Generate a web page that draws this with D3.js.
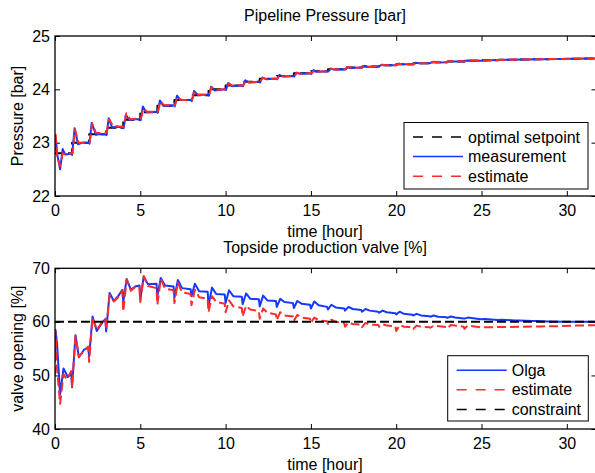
<!DOCTYPE html>
<html>
<head>
<meta charset="utf-8">
<script src="https://cdn.jsdelivr.net/npm/d3@7"></script>
<style>
  body { margin: 0; background: #fff; }
  text { font-family: "Liberation Sans", Arial, Helvetica, sans-serif; fill: #000; }
</style>
</head>
<body>
<svg id="chart" width="595" height="473"></svg>
<script>
// ---- data ----
const xTicks = [0, 5, 10, 15, 20, 25, 30]
const pressureTicks = [22, 23, 24, 25]
const valveTicks = [40, 50, 60, 70]

// optimal setpoint, one value per hour (step after)
const setpointHour = [0, 1, 2, 3, 4, 5, 6, 7, 8, 9, 10, 11, 12, 13, 14, 15, 16, 17, 18, 19, 20, 21, 22, 23, 24, 25, 26, 27, 28, 29, 30, 31, 32]
const setpointBar = [22.8, 23.0, 23.16, 23.28, 23.43, 23.57, 23.69, 23.8, 23.89, 24.0, 24.07, 24.14, 24.2, 24.25, 24.3, 24.34, 24.375, 24.41, 24.43, 24.45, 24.47, 24.49, 24.51, 24.52, 24.535, 24.545, 24.555, 24.56, 24.565, 24.57, 24.575, 24.578, 24.58]

const pressureMeas = [
  [0, 22.85], [0.05, 23.1], [0.12, 22.8], [0.3, 22.5], [0.45, 22.88], [0.6, 22.78], [0.95, 22.79],
  [1.0, 22.77], [1.15, 23.27], [1.35, 22.97], [1.6, 23.0], [1.97, 23.0],
  [2.02, 22.98], [2.15, 23.37], [2.4, 23.15], [2.6, 23.16], [2.97, 23.16],
  [3.02, 23.14], [3.15, 23.46], [3.35, 23.28], [3.6, 23.3], [3.97, 23.29],
  [4.02, 23.27], [4.15, 23.52], [4.35, 23.43], [4.6, 23.44], [4.97, 23.44],
  [5.02, 23.42], [5.15, 23.68], [5.35, 23.57], [5.97, 23.58],
  [6.02, 23.56], [6.15, 23.79], [6.35, 23.69], [6.97, 23.7],
  [7.02, 23.68], [7.15, 23.88], [7.35, 23.8], [7.97, 23.8],
  [8.02, 23.78], [8.15, 23.97], [8.35, 23.9], [8.97, 23.9],
  [9.02, 23.88], [9.15, 24.05], [9.35, 23.98], [9.97, 24.0],
  [10.02, 23.99], [10.15, 24.12], [10.35, 24.06], [10.97, 24.07],
  [11.02, 24.06], [11.15, 24.17], [11.35, 24.13], [11.97, 24.14],
  [12.02, 24.13], [12.15, 24.22], [12.35, 24.19], [12.97, 24.2],
  [13.02, 24.19], [13.15, 24.27], [13.35, 24.24], [13.97, 24.25],
  [14.02, 24.24], [14.15, 24.31], [14.35, 24.29], [14.97, 24.3],
  [15.02, 24.29], [15.15, 24.36], [15.35, 24.33], [15.97, 24.34],
  [16.02, 24.335], [16.15, 24.39], [16.35, 24.37], [16.97, 24.375],
  [17.02, 24.37], [17.15, 24.42], [17.35, 24.4], [17.97, 24.41],
  [18.15, 24.44], [18.35, 24.42], [18.97, 24.43],
  [19.15, 24.46], [19.35, 24.45], [19.97, 24.45],
  [20.15, 24.48], [20.35, 24.47], [20.97, 24.47],
  [21.15, 24.5], [21.35, 24.49], [21.97, 24.49],
  [22.15, 24.515], [22.35, 24.505], [22.97, 24.51],
  [23.15, 24.53], [23.35, 24.52], [23.97, 24.52],
  [24.15, 24.54], [24.97, 24.535], [25.5, 24.545], [26.5, 24.555], [27.5, 24.56],
  [28.5, 24.565], [29.5, 24.57], [30.5, 24.575], [32, 24.58]
]

const pressureEst = [
  [0, 22.9], [0.04, 23.15], [0.12, 22.75], [0.3, 22.56], [0.45, 22.8], [0.6, 22.78], [0.97, 22.8],
  [1.03, 22.8], [1.17, 23.25], [1.37, 23.0], [1.6, 23.0], [1.97, 23.0],
  [2.03, 23.0], [2.18, 23.36], [2.4, 23.18], [2.97, 23.18],
  [3.03, 23.2], [3.18, 23.44], [3.4, 23.31], [3.97, 23.3],
  [4.03, 23.3], [4.18, 23.55], [4.4, 23.44], [4.97, 23.45],
  [5.03, 23.45], [5.18, 23.64], [5.4, 23.58], [5.97, 23.58],
  [6.03, 23.58], [6.18, 23.78], [6.4, 23.7], [6.97, 23.7],
  [7.03, 23.7], [7.18, 23.86], [7.4, 23.8], [7.97, 23.8],
  [8.03, 23.8], [8.18, 23.96], [8.4, 23.9], [8.97, 23.9],
  [9.03, 23.9], [9.18, 24.04], [9.4, 23.99], [9.97, 24.0],
  [10.03, 24.0], [10.18, 24.11], [10.4, 24.07], [10.97, 24.07],
  [11.03, 24.07], [11.18, 24.16], [11.4, 24.13], [11.97, 24.14],
  [12.03, 24.14], [12.18, 24.22], [12.4, 24.19], [12.97, 24.2],
  [13.03, 24.2], [13.18, 24.27], [13.4, 24.24], [13.97, 24.25],
  [14.03, 24.25], [14.18, 24.31], [14.4, 24.29], [14.97, 24.3],
  [15.03, 24.3], [15.18, 24.35], [15.4, 24.33], [15.97, 24.34],
  [16.18, 24.385], [16.4, 24.37], [16.97, 24.375],
  [17.18, 24.42], [17.4, 24.4], [17.97, 24.41],
  [18.18, 24.44], [18.4, 24.425], [18.97, 24.43],
  [19.18, 24.46], [19.4, 24.45], [19.97, 24.45],
  [20.18, 24.48], [20.4, 24.47], [20.97, 24.47],
  [21.18, 24.5], [21.4, 24.49], [21.97, 24.49],
  [22.18, 24.515], [22.97, 24.51], [23.18, 24.53], [23.97, 24.52],
  [24.18, 24.54], [24.97, 24.535], [25.5, 24.545], [26.5, 24.555], [27.5, 24.56],
  [28.5, 24.565], [29.5, 24.57], [30.5, 24.575], [32, 24.58]
]

const valveOlga = [
  [0, 53], [0.03, 58.5], [0.12, 56], [0.3, 46.5], [0.5, 51.3], [0.75, 49.7], [0.95, 50.4],
  [1.0, 47.8], [1.2, 57.5], [1.4, 53.4], [1.7, 54.8], [1.95, 55.2],
  [2.0, 53.5], [2.2, 61], [2.45, 58.3], [2.8, 60], [2.95, 60.5],
  [3.0, 58.2], [3.2, 65.4], [3.45, 63.9], [3.7, 64.8], [3.95, 66],
  [4.0, 63.8], [4.2, 68], [4.45, 66], [4.7, 66.6], [4.95, 66.8],
  [5.0, 64.2], [5.2, 68.5], [5.45, 67], [5.95, 67.1],
  [6.0, 64.8], [6.2, 68.2], [6.45, 66.8], [6.95, 66.6],
  [7.0, 64.5], [7.2, 67.8], [7.45, 66.3], [7.95, 66.1],
  [8.0, 64.8], [8.2, 67.1], [8.45, 65.7], [8.95, 65.6],
  [9.0, 63], [9.2, 66.4], [9.45, 65.2], [9.95, 65.1],
  [10.0, 63.5], [10.2, 65.9], [10.45, 64.8], [10.95, 64.7],
  [11.0, 63.3], [11.2, 65.3], [11.45, 64.3], [11.95, 64.2],
  [12.0, 62.9], [12.2, 64.9], [12.45, 64.0], [12.95, 63.9],
  [13.0, 62.8], [13.2, 64.3], [13.45, 63.7], [13.95, 63.5],
  [14.0, 62.6], [14.2, 63.9], [14.45, 63.4], [14.95, 63.2],
  [15.0, 62.5], [15.2, 63.8], [15.45, 63.1], [15.95, 62.8],
  [16.0, 62.3], [16.2, 63.2], [16.45, 62.7], [16.95, 62.5],
  [17.0, 62.1], [17.2, 62.8], [17.45, 62.4], [17.95, 62.2],
  [18.0, 61.9], [18.2, 62.4], [18.45, 62.1], [18.95, 61.9],
  [19.0, 61.7], [19.2, 62.1], [19.45, 61.8], [19.95, 61.6],
  [20.0, 61.4], [20.2, 61.9], [20.45, 61.5], [20.95, 61.35],
  [21.0, 61.2], [21.2, 61.5], [21.45, 61.2], [21.95, 61.05],
  [22.0, 60.95], [22.2, 61.2], [22.45, 60.95], [22.95, 60.85],
  [23.0, 60.75], [23.2, 61.0], [23.45, 60.8], [23.95, 60.65],
  [24.0, 60.6], [24.2, 60.8], [24.95, 60.5],
  [25.2, 60.55], [25.95, 60.35], [26.2, 60.4], [26.95, 60.25],
  [27.2, 60.25], [27.95, 60.15], [28.2, 60.15], [28.95, 60.08],
  [29.95, 60.04], [30.95, 60.02], [32, 60.0]
]

const valveEst = [
  [0, 50], [0.03, 58.3], [0.1, 52], [0.3, 44.7], [0.5, 50.2], [0.7, 49.3], [0.95, 50.8],
  [1.0, 47.8], [1.2, 57.3], [1.4, 53.5], [1.7, 54.6], [1.95, 55.4],
  [2.0, 52.5], [2.2, 60.8], [2.45, 58.5], [2.8, 60.2], [2.95, 60.6],
  [3.0, 58.5], [3.2, 65.0], [3.45, 63.8], [3.7, 64.6], [3.95, 65.8],
  [4.0, 61.9], [4.2, 67.9], [4.45, 65.8], [4.7, 66.5], [4.95, 66.6],
  [5.0, 63.7], [5.2, 68.5], [5.45, 66.7], [5.95, 66.3],
  [6.0, 63.2], [6.2, 68.0], [6.45, 66.2], [6.95, 65.9],
  [7.0, 63.5], [7.2, 67.3], [7.45, 65.5], [7.95, 65.2],
  [8.0, 63.1], [8.2, 66.0], [8.45, 64.6], [8.95, 64.3],
  [9.0, 61.8], [9.2, 64.8], [9.45, 63.7], [9.95, 63.4],
  [10.0, 61.8], [10.2, 64.0], [10.45, 62.9], [10.95, 62.6],
  [11.0, 61.0], [11.2, 63.0], [11.45, 62.3], [11.95, 62.0],
  [12.0, 60.6], [12.2, 62.5], [12.45, 61.7], [12.95, 61.4],
  [13.0, 60.3], [13.2, 61.8], [13.45, 61.2], [13.95, 61.0],
  [14.0, 60.2], [14.2, 61.3], [14.45, 60.8], [14.95, 60.6],
  [15.0, 59.8], [15.2, 60.8], [15.45, 60.3], [15.95, 60.1],
  [16.0, 59.6], [16.2, 60.4], [16.45, 60.0], [16.95, 59.8],
  [17.0, 59.1], [17.2, 59.9], [17.45, 59.6], [17.95, 59.5],
  [18.0, 59.0], [18.2, 59.8], [18.45, 59.5], [18.95, 59.4],
  [19.0, 59.1], [19.2, 59.6], [19.45, 59.3], [19.95, 59.2],
  [20.0, 58.3], [20.2, 59.4], [20.45, 59.1], [20.95, 59.0],
  [21.0, 58.7], [21.2, 59.3], [21.45, 59.1], [21.95, 59.0],
  [22.0, 58.9], [22.2, 59.3], [22.95, 59.05],
  [23.0, 58.8], [23.2, 59.4], [23.95, 59.1],
  [24.0, 58.7], [24.2, 59.3], [24.95, 59.0],
  [25.5, 59.0], [26.5, 59.05], [27.5, 59.1], [28.5, 59.15], [29.5, 59.2], [30.5, 59.3], [32, 59.4]
]

const constraintValue = [60]

// ---- layout ----
const blue = '#1438ff'
const red = '#ff2b2b'
const fontSize = 16
const dash = '9,4'
const legendDash = '10,9'

const svg = d3.select('#chart')
const xScale = d3.scaleLinear().domain([0, 31.74]).range([55, 596.5])

function drawPanel(opts) {
  const y = d3.scaleLinear().domain(opts.yDomain).range([opts.bottom, opts.top])
  const g = svg.append('g')
  const clipId = `clip-${opts.id}`

  svg.append('clipPath').attr('id', clipId)
    .append('rect')
    .attr('x', xScale.range()[0]).attr('y', opts.top)
    .attr('width', xScale.range()[1] - xScale.range()[0])
    .attr('height', opts.bottom - opts.top)

  const xAxisB = d3.axisBottom(xScale).tickValues(xTicks).tickSize(-5).tickSizeOuter(0).tickPadding(9).tickFormat(d3.format('d'))
  const xAxisT = d3.axisTop(xScale).tickValues(xTicks).tickSize(-5).tickSizeOuter(0).tickFormat('')
  const yAxisL = d3.axisLeft(y).tickValues(opts.yTicks).tickSize(-5).tickSizeOuter(0).tickPadding(5).tickFormat(d3.format('d'))
  const yAxisR = d3.axisRight(y).tickValues(opts.yTicks).tickSize(-5).tickSizeOuter(0).tickFormat('')

  g.append('g').attr('transform', `translate(0,${opts.bottom})`).call(xAxisB)
  g.append('g').attr('transform', `translate(0,${opts.top})`).call(xAxisT)
  g.append('g').attr('transform', `translate(${xScale.range()[0]},0)`).call(yAxisL)
  g.append('g').attr('transform', `translate(${xScale.range()[1]},0)`).call(yAxisR)

  g.selectAll('.domain').remove()
  g.selectAll('.tick line').attr('stroke', '#000').attr('stroke-width', 1)
  g.selectAll('.tick text')
    .style('font-size', `${fontSize}px`)
    .style('font-family', '"Liberation Sans", Arial, Helvetica, sans-serif')
    .attr('fill', '#000')

  const lineGen = d3.line().x(d => xScale(d[0])).y(d => y(d[1]))
  const plot = g.append('g').attr('clip-path', `url(#${clipId})`)

  opts.series.forEach(s => {
    plot.append('path')
      .datum(s.data)
      .attr('d', s.step ? lineGen.curve(d3.curveStepAfter)(s.data) : lineGen.curve(d3.curveLinear)(s.data))
      .attr('fill', 'none')
      .attr('stroke', s.color)
      .attr('stroke-width', 2)
      .attr('stroke-linejoin', 'round')
      .attr('stroke-dasharray', s.dashed ? dash : null)
  })

  // frame
  g.append('rect')
    .attr('x', xScale.range()[0]).attr('y', opts.top)
    .attr('width', xScale.range()[1] - xScale.range()[0])
    .attr('height', opts.bottom - opts.top)
    .attr('fill', 'none').attr('stroke', '#000').attr('stroke-width', 1.3)

  g.append('text').attr('x', 325).attr('y', opts.top - 15)
    .attr('text-anchor', 'middle').style('font-size', `${fontSize}px`).text(opts.title)
  g.append('text').attr('x', 325).attr('y', opts.bottom + 40.5)
    .attr('text-anchor', 'middle').style('font-size', `${fontSize}px`).text('time [hour]')
  g.append('text')
    .attr('transform', `translate(23,${(opts.top + opts.bottom) / 2}) rotate(-90)`)
    .attr('text-anchor', 'middle').style('font-size', `${fontSize}px`).text(opts.yLabel)

  // legend
  const L = opts.legend
  const lg = g.append('g')
  lg.append('rect')
    .attr('x', L.x).attr('y', L.y).attr('width', L.w).attr('height', L.h)
    .attr('fill', '#fff').attr('stroke', '#000').attr('stroke-width', 1)
  L.items.forEach((it, i) => {
    const yy = L.y + 14.5 + i * 19.6
    lg.append('line')
      .attr('x1', L.x + 9).attr('x2', L.x + 59)
      .attr('y1', yy).attr('y2', yy)
      .attr('stroke', it.color).attr('stroke-width', 1.5)
      .attr('stroke-dasharray', it.dashed ? legendDash : null)
    lg.append('text')
      .attr('x', L.x + 64).attr('y', yy).attr('dy', '0.35em')
      .style('font-size', `${fontSize}px`).text(it.label)
  })
}

drawPanel({
  id: 'pressure',
  top: 36, bottom: 196,
  yDomain: [22, 25], yTicks: pressureTicks,
  title: 'Pipeline Pressure [bar]', yLabel: 'Pressure [bar]',
  series: [
    { data: setpointHour.map((h, i) => [h, setpointBar[i]]), color: '#000', dashed: true, step: true },
    { data: pressureMeas, color: blue },
    { data: pressureEst, color: red, dashed: true }
  ],
  legend: {
    x: 404, y: 122.5, w: 184, h: 66.5,
    items: [
      { label: 'optimal setpoint', color: '#000', dashed: true },
      { label: 'measurement', color: blue },
      { label: 'estimate', color: red, dashed: true }
    ]
  }
})

drawPanel({
  id: 'valve',
  top: 268.3, bottom: 429,
  yDomain: [40, 70], yTicks: valveTicks,
  title: 'Topside production valve [%]', yLabel: 'valve opening [%]',
  series: [
    { data: valveOlga, color: blue },
    { data: valveEst, color: red, dashed: true },
    { data: [[0, constraintValue[0]], [32, constraintValue[0]]], color: '#000', dashed: true }
  ],
  legend: {
    x: 447.7, y: 355.7, w: 140.6, h: 65.3,
    items: [
      { label: 'Olga', color: blue },
      { label: 'estimate', color: red, dashed: true },
      { label: 'constraint', color: '#000', dashed: true }
    ]
  }
})
</script>
</body>
</html>
